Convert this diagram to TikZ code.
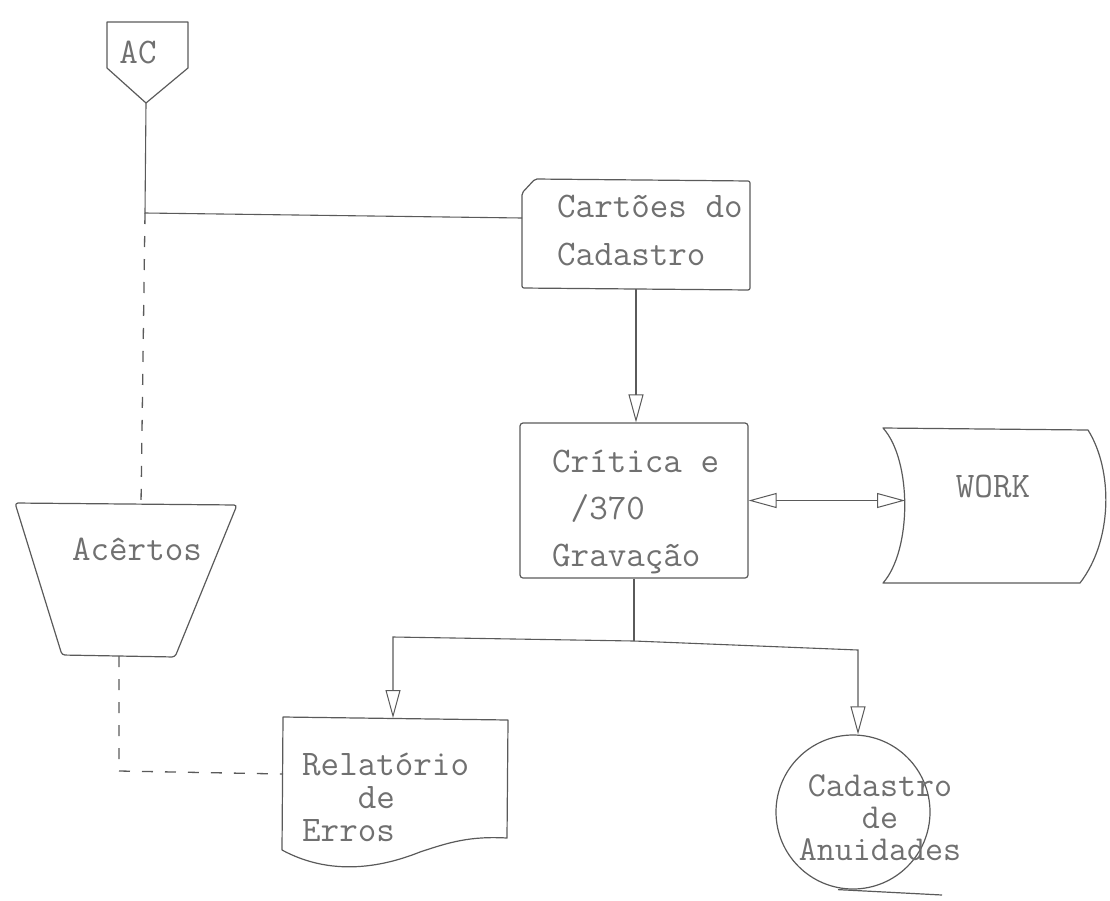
\documentclass[tikz,border=0pt]{standalone}
\usepackage{fontspec}
\usetikzlibrary{arrows.meta}
\definecolor{ink}{HTML}{5A5A5A}
\definecolor{txt}{HTML}{707070}
\begin{document}
\begin{tikzpicture}[x=1pt,y=-1pt,
  >={Triangle[open,length=28pt,width=15pt,line width=1pt]},
  shp/.style={draw=ink,line width=1.2pt,line join=round},
  con/.style={draw=ink,line width=1.1pt},
  dsh/.style={draw=ink,line width=1.3pt,dash pattern=on 11pt off 12pt},
  lbl/.style={text=txt,inner sep=0pt,align=left,font=\ttfamily\fontsize{36}{48}\selectfont}]
\useasboundingbox (0,0) rectangle (1110,900);

% AC off-page connector
\draw[shp] (107,22) -- (188,22) -- (188,68) -- (146,103) -- (107,68) -- cycle;
\coordinate (acTip) at (146,103);
\node[lbl] (actxt) at (138,52) {AC};

% Cartoes do Cadastro (card)
\draw[shp,rounded corners=2pt] (535,179) -- (750,181) -- (750,290) -- (522,288) -- (522,193) -- cycle;
\coordinate (cardW) at (522,218);
\coordinate (cardS) at (636,289);
\node[lbl,anchor=west] (cardtxt) at (557,230) {Cartões do\\Cadastro};

% junction and line from AC
\coordinate (j1) at (145,213);
\draw[con] (acTip) -- (j1) -- (cardW);

% process
\node[shp,draw,rounded corners=3pt,minimum width=228pt,minimum height=155pt] (proc) at (634,500.5) {};
\draw[con,->] (cardS) -- (cardS |- proc.north);
\node[lbl,anchor=west,font=\ttfamily\fontsize{36}{47}\selectfont] (proctxt) at (552,512) {Crítica e\\\hphantom{x}/370\\Gravação};

% WORK
\draw[shp] (883,428) -- (1088,430) .. controls (1113,470) and (1113,540) .. (1080,583) -- (883,583) .. controls (912,550) and (912,460) .. cycle;
\coordinate (workW) at (905,500.5);
\node[lbl] (worktxt) at (993,486) {WORK};
\draw[con,<->] (proc.east) -- (workW);

% Acertos (manual operation)
\draw[shp,rounded corners=3pt] (15,503) -- (237,505) -- (175,657) -- (62,655) -- cycle;
\coordinate (acN) at (141,504);
\coordinate (acS) at (119,656);
\node[lbl] (acertxt) at (137,549) {Acêrtos};
\draw[dsh] (j1) -- (acN);

% Relatorio de Erros (document)
\draw[shp] (282,850) -- (283,717) -- (508,720) -- (507,838) .. controls (470,836) and (450,842) .. (420,852) .. controls (380,868) and (330,876) .. (282,850);
\coordinate (relN) at (393,718);
\coordinate (relW) at (283,774);
\node[lbl,anchor=west,font=\ttfamily\fontsize{36}{33}\selectfont] (reltxt) at (302,797) {Relatório\\\hphantom{xxx}de\\Erros};
\coordinate (d1) at (119,771);
\draw[dsh] (acS) -- (d1) -- (relW);

% Cadastro de Anuidades (tape)
\node[shp,draw,circle,minimum size=154pt,inner sep=0pt] (cad) at (853,812) {};
\coordinate (tapeEnd) at (942,895);
\draw[shp] ([xshift=-15pt]cad.south) -- (tapeEnd);
\node[lbl,align=center,font=\ttfamily\fontsize{35}{32}\selectfont] (cadtxt) at (880,818) {Cadastro\\de\\Anuidades};

% branch from process
\coordinate (j2) at (634,641);
\coordinate (bL) at (393,637);
\coordinate (bR) at (858,650);
\draw[con] (proc.south) -- (j2);
\draw[con,->] (j2) -- (bL) -- (relN);
\draw[con,->] (j2) -- (bR) -- (bR |- cad.north);
\end{tikzpicture}
\end{document}
